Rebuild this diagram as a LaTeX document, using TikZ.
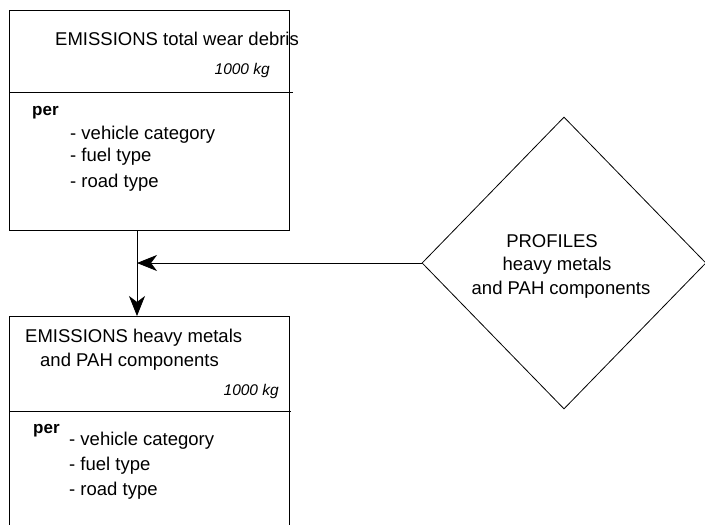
\documentclass[tikz,border=0pt]{standalone}
\usepackage{fontspec}
\setmainfont{Liberation Sans}
\usetikzlibrary{arrows.meta,shapes.geometric}

\begin{document}
\begin{tikzpicture}[x=1pt,y=-1pt,
  box/.style={draw,line width=0.8pt,inner sep=0pt},
  txt/.style={inner sep=0pt,anchor=base west,font=\fontsize{18.5}{22}\selectfont},
  unit/.style={inner sep=0pt,anchor=base east,font=\fontsize{15.5}{18}\selectfont\itshape},
  perlbl/.style={inner sep=0pt,anchor=base west,font=\fontsize{17}{20}\selectfont\bfseries},
  proftxt/.style={inner sep=0pt,anchor=base,font=\fontsize{18.5}{22}\selectfont},
  flow/.style={draw,line width=0.8pt,-{Stealth[length=20pt,width=16pt,inset=6pt]}}
]
\useasboundingbox (0,0) rectangle (705,525);
% top box
\node[box,minimum width=280pt,minimum height=220pt,anchor=north west] (wear) at (9,10) {};
\draw[line width=0.8pt] (9,92) -- (293,92);
\node[txt] (weartitle) at (55,45) {EMISSIONS total wear debris};
\node[unit] (wearunit) at (270,74) {1000 kg};
\node[perlbl] (wearper) at (32,115) {per};
\node[txt] (wearveh) at (70,139) {- vehicle category};
\node[txt] (wearfuel) at (70,161) {- fuel type};
\node[txt] (wearroad) at (70,187) {- road type};
% bottom box, runs off the page
\begin{scope}
\clip (0,0) rectangle (705,525);
\node[box,minimum width=280pt,minimum height=240pt,anchor=north west] (metals) at (9,316) {};
\end{scope}
\draw[line width=0.8pt] (9,411) -- (291,411);
\node[txt] (metalstitle) at (25,342) {EMISSIONS heavy metals};
\node[txt] (metalstitleb) at (40,366) {and PAH components};
\node[unit] (metalsunit) at (279,395) {1000 kg};
\node[perlbl] (metalsper) at (33,433) {per};
\node[txt] (metalsveh) at (69,445) {- vehicle category};
\node[txt] (metalsfuel) at (69,470) {- fuel type};
\node[txt] (metalsroad) at (69,495) {- road type};
% profiles
\node[diamond,draw,line width=0.8pt,inner sep=0pt,minimum width=284pt,minimum height=292pt] (profiles) at (564,263) {};
\node[proftxt] (profa) at (552,247) {PROFILES};
\node[proftxt] (profb) at (557,270) {heavy metals};
\node[proftxt] (profc) at (561,294) {and PAH components};
% arrows
\coordinate (join) at (profiles.west -| 137,0);
\draw[flow] (join |- wear.south) -- (join |- metals.north);
\draw[flow] (profiles.west) -- (join);
\end{tikzpicture}
\end{document}
